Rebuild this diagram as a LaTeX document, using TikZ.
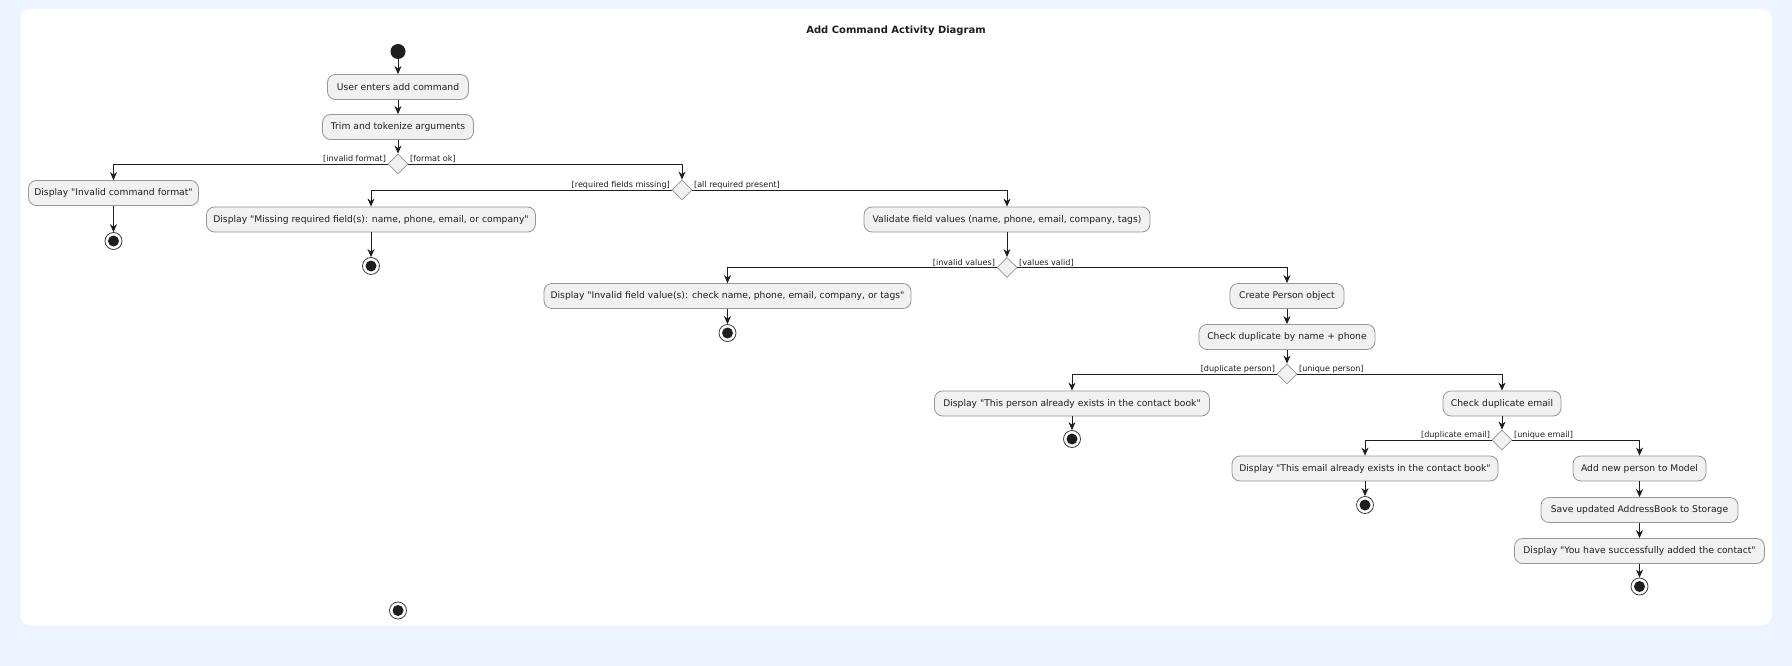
\documentclass[tikz,border=0pt]{standalone}
\usepackage{fontspec}
\setmainfont{DejaVu Sans}[Ligatures=TeXOff]
\usetikzlibrary{shapes.geometric,arrows.meta}
\definecolor{bg}{RGB}{238,244,255}
\definecolor{boxfill}{RGB}{241,241,241}
\definecolor{boxline}{RGB}{150,150,150}
\definecolor{ink}{RGB}{30,30,30}
\begin{document}
\begin{tikzpicture}[x=1pt,y=-1pt,
 act/.style={draw=boxline, fill=boxfill, rounded corners=8pt, minimum height=25pt, inner xsep=0pt, inner ysep=0pt, font=\fontsize{9.2}{11}\selectfont, text=ink, line width=0.8pt},
 dia/.style={diamond, draw=boxline, fill=boxfill, minimum width=20pt, minimum height=20pt, inner sep=0pt, line width=0.8pt},
 startnode/.style={circle, fill=ink, minimum size=15pt, inner sep=0pt},
 stopnode/.style={circle, draw=ink!85, fill=white, minimum size=17pt, inner sep=0pt, line width=0.8pt, path picture={\fill[ink] (path picture bounding box.center) circle (5.5pt);}},
 arr/.style={draw=ink, line width=0.9pt, -{Stealth[length=8pt,width=7pt,inset=2.5pt]}},
 lbl/.style={font=\fontsize{8.1}{9}\selectfont, text=ink, inner xsep=1.5pt, inner ysep=1pt}
]
\useasboundingbox (0,0) rectangle (1792,666);
\fill[bg] (0,0) rectangle (1792,666);
\fill[white, rounded corners=10pt] (20.5,9) rectangle (1771.5,625.5);

\node[font=\bfseries\fontsize{10}{12}\selectfont, text=ink] (title) at (896,31) {Add Command Activity Diagram};

\node[startnode] (st) at (398,51.5) {};
\node[act, minimum width=141pt] (n1) at (398,87) {User enters add command};
\node[act, minimum width=151pt] (n2) at (398,127) {Trim and tokenize arguments};
\node[dia] (d1) at (398,164) {};
\node[act, minimum width=170pt] (e1) at (113.5,193) {Display "Invalid command format"};
\node[stopnode] (s1) at (113.5,241) {};
\node[dia] (d2) at (682,190) {};
\node[act, minimum width=329pt] (e2) at (371,219.5) {Display "Missing required field(s): name, phone, email, or company"};
\node[stopnode] (s2) at (371,266) {};
\node[act, minimum width=286pt] (n3) at (1007,219.5) {Validate field values (name, phone, email, company, tags)};
\node[dia] (d3) at (1007,267.5) {};
\node[act, minimum width=367pt] (e3) at (727.5,296) {Display "Invalid field value(s): check name, phone, email, company, or tags"};
\node[stopnode] (s3) at (727.5,333) {};
\node[act, minimum width=114pt] (n4) at (1287,296) {Create Person object};
\node[act, minimum width=176pt] (n5) at (1287,337) {Check duplicate by name + phone};
\node[dia] (d4) at (1287,374) {};
\node[act, minimum width=275pt] (e4) at (1072,403.5) {Display "This person already exists in the contact book"};
\node[stopnode] (s4) at (1072,439) {};
\node[act, minimum width=118pt] (n6) at (1502,403.5) {Check duplicate email};
\node[dia] (d5) at (1502,440) {};
\node[act, minimum width=266pt] (e5) at (1365,468.5) {Display "This email already exists in the contact book"};
\node[stopnode] (s5) at (1365,505) {};
\node[act, minimum width=133pt] (n7) at (1639.5,468.5) {Add new person to Model};
\node[act, minimum width=197pt] (n8) at (1639.5,510) {Save updated AddressBook to Storage};
\node[act, minimum width=250pt] (n9) at (1639.5,551) {Display "You have successfully added the contact"};
\node[stopnode] (s6) at (1639.5,586.5) {};
\node[stopnode] (s7) at (398,610.5) {};

\node[lbl, anchor=south east] at (d1.west) {[invalid format]};
\node[lbl, anchor=south west] at (d1.east) {[format ok]};
\node[lbl, anchor=south east] at (d2.west) {[required fields missing]};
\node[lbl, anchor=south west] at (d2.east) {[all required present]};
\node[lbl, anchor=south east] at (d3.west) {[invalid values]};
\node[lbl, anchor=south west] at (d3.east) {[values valid]};
\node[lbl, anchor=south east] at (d4.west) {[duplicate person]};
\node[lbl, anchor=south west] at (d4.east) {[unique person]};
\node[lbl, anchor=south east] at (d5.west) {[duplicate email]};
\node[lbl, anchor=south west] at (d5.east) {[unique email]};

\draw[arr] (st) -- (n1);
\draw[arr] (n1) -- (n2);
\draw[arr] (n2) -- (d1);
\draw[arr] (d1.west) -| (e1.north);
\draw[arr] (e1) -- (s1);
\draw[arr] (d1.east) -| (d2.north);
\draw[arr] (d2.west) -| (e2.north);
\draw[arr] (e2) -- (s2);
\draw[arr] (d2.east) -| (n3.north);
\draw[arr] (n3) -- (d3);
\draw[arr] (d3.west) -| (e3.north);
\draw[arr] (e3) -- (s3);
\draw[arr] (d3.east) -| (n4.north);
\draw[arr] (n4) -- (n5);
\draw[arr] (n5) -- (d4);
\draw[arr] (d4.west) -| (e4.north);
\draw[arr] (e4) -- (s4);
\draw[arr] (d4.east) -| (n6.north);
\draw[arr] (n6) -- (d5);
\draw[arr] (d5.west) -| (e5.north);
\draw[arr] (e5) -- (s5);
\draw[arr] (d5.east) -| (n7.north);
\draw[arr] (n7) -- (n8);
\draw[arr] (n8) -- (n9);
\draw[arr] (n9) -- (s6);
\end{tikzpicture}
\end{document}
